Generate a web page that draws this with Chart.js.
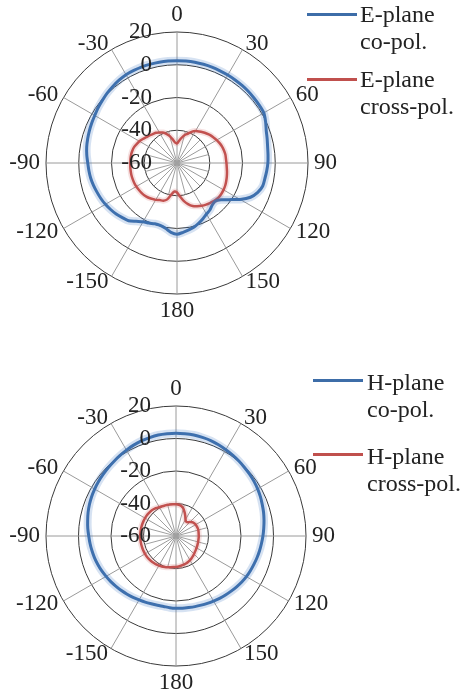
<!DOCTYPE html>
<html>
<head>
<meta charset="utf-8">
<script src="https://cdn.jsdelivr.net/npm/chart.js@4.4.1/dist/chart.umd.min.js"></script>
<style>
    body {
        margin: 0;
        width: 461px;
        height: 700px;
        background: #fff;
        position: relative;
        overflow: hidden;
        font-family: 'Liberation Serif', 'DejaVu Serif', serif;
    }
    canvas { position: absolute; left: 0; }
    #eChart { top: 0; }
    #hChart { top: 340px; }
    .legend-text {
        position: absolute;
        font-size: 24px;
        line-height: 27px;
        color: #222;
        white-space: nowrap;
    }
    .legend-line {
        position: absolute;
        width: 50px;
        height: 3px;
    }
</style>
</head>
<body>
<canvas id="eChart" width="461" height="340"></canvas>
<canvas id="hChart" width="461" height="360"></canvas>

<div class="legend-line" style="left:307px; top:13px; background:#3d6da8;"></div>
<div class="legend-text" style="left:360px; top:1px;">E-plane<br>co-pol.</div>
<div class="legend-line" style="left:307px; top:78px; background:#c0504d;"></div>
<div class="legend-text" style="left:360px; top:66px;">E-plane<br>cross-pol.</div>

<div class="legend-line" style="left:313px; top:379px; background:#3d6da8;"></div>
<div class="legend-text" style="left:367px; top:369px;">H-plane<br>co-pol.</div>
<div class="legend-line" style="left:313px; top:453px; background:#c0504d;"></div>
<div class="legend-text" style="left:367px; top:443px;">H-plane<br>cross-pol.</div>

<script>
// Angles (degrees, clockwise from top) and radial ticks (dB)
const angles = [0, 5, 10, 15, 20, 25, 30, 35, 40, 45, 50, 55, 60, 65, 70, 75, 80, 85,
    90, 95, 100, 105, 110, 115, 120, 125, 130, 135, 140, 145, 150, 155, 160, 165, 170, 175,
    180, 185, 190, 195, 200, 205, 210, 215, 220, 225, 230, 235, 240, 245, 250, 255, 260, 265,
    270, 275, 280, 285, 290, 295, 300, 305, 310, 315, 320, 325, 330, 335, 340, 345, 350, 355];
const radialTicks = [-60, -40, -20, 0, 20];

// E-plane patterns (dB)
const eCoPol = [2.5, 2.5, 2.5, 2.4, 2.3, 2.1, 2.0, 1.9, 1.8, 1.7, 1.5, 1.4, 1.2, -0.3, -2.0, -3.0, -3.8, -4.2,
    -4.5, -5.0, -5.5, -5.8, -7.5, -10.5, -15.5, -21, -25, -27, -26.5, -25, -24, -22.5, -21, -19.5, -18.5, -17.5,
    -16.5, -17.5, -19.5, -20.5, -20.5, -19.5, -18.5, -16.5, -14, -12.8, -11.5, -10.5, -9.5, -8.7, -8, -7.2, -6.5, -6,
    -5.5, -4.7, -4, -3.5, -3, -2.5, -2, -1.2, -0.5, 0.3, 1.0, 1.7, 2.3, 2.4, 2.5, 2.5, 2.5, 2.5];
const eCrossPol = [-48, -46.5, -44.5, -42.5, -41, -39, -37.5, -36.5, -35.5, -34.5, -33.5, -32.8, -32, -31.3, -30.7, -30.3, -30, -30,
    -29.8, -29.5, -29, -28.5, -28, -27.5, -27.2, -27, -27, -27.5, -28.3, -29, -29.8, -30.8, -32, -34, -36.5, -39.5,
    -42, -42.5, -40.5, -37, -35.5, -35, -34, -33.3, -32.5, -32, -31.7, -31.5, -31.3, -31.2, -31.2, -31.2, -31.3, -31.4,
    -31.5, -31.5, -31.5, -31.7, -32, -32.8, -33.5, -34.5, -35.5, -36.2, -37, -37.5, -38.5, -39.5, -41, -43, -45.5, -47.5];

// H-plane patterns (dB)
const hCoPol = [3.3, 3.2, 3.1, 2.8, 2.5, 1.9, 1.3, 0.8, 0.2, -0.4, -0.9, -1.4, -2.0, -2.7, -3.5, -4.2, -5.0, -5.8,
    -6.5, -7.2, -7.8, -8.4, -9.0, -9.5, -10.0, -10.6, -11.3, -12.0, -12.6, -13.2, -13.8, -14.3, -14.7, -15.0, -15.3, -15.4,
    -15.5, -15.7, -16.0, -15.9, -15.6, -15.1, -14.6, -13.9, -13.2, -12.5, -11.8, -11.0, -10.3, -9.5, -8.8, -8.1, -7.5, -6.9,
    -6.3, -5.5, -4.8, -4.0, -3.3, -2.7, -2.2, -1.7, -1.3, -0.8, -0.3, 0.3, 1.0, 1.7, 2.3, 2.7, 3.1, 3.2];
const hCrossPol = [-40.5, -40.7, -41.2, -42.5, -44.5, -46.5, -48.3, -49.2, -49, -47.8, -46.8, -46.3, -46, -45.9, -45.8, -45.8, -45.9, -46,
    -46, -46, -46, -45.9, -45.8, -45.6, -45.4, -45.1, -44.8, -44.3, -43.8, -43.3, -42.8, -42.4, -42, -41.7, -41.5, -41.2,
    -41, -40.8, -40.5, -40.1, -39.7, -39.3, -39, -38.7, -38.5, -38.3, -38.1, -38, -38, -38, -38, -38, -38, -38,
    -38, -38, -38, -38, -38, -38, -38, -38, -38.1, -38.2, -38.5, -39, -39.5, -39.8, -40, -40.1, -40.3, -40.4];

const BLUE = '#3d6da8';
const RED = '#c0504d';
const FONT = "23px 'Liberation Serif', serif";

// Label shown for an angle: 0..180, then -175..-5
function angleText(a) {
    return a > 180 ? String(a - 360) : String(a);
}

// Draws short inner spokes, tick labels and angle labels using the radial scale
const polarLabels = {
    id: 'polarLabels',
    beforeDatasetsDraw(chart) {
        const s = chart.scales.r;
        const ctx = chart.ctx;
        const inner = s.getDistanceFromCenterForValue(radialTicks[1]);
        ctx.save();
        ctx.strokeStyle = '#a0a0a0';
        ctx.lineWidth = 1;
        angles.forEach((a, i) => {
            if (a % 30 !== 15) return;
            const p = s.getPointPosition(i, inner);
            ctx.beginPath();
            ctx.moveTo(s.xCenter, s.yCenter);
            ctx.lineTo(p.x, p.y);
            ctx.stroke();
        });
        ctx.restore();
    },
    afterDatasetsDraw(chart) {
        const s = chart.scales.r;
        const ctx = chart.ctx;
        ctx.save();
        ctx.font = FONT;
        ctx.fillStyle = '#222';

        // radial tick labels, right-aligned a little left of the vertical axis
        ctx.textAlign = 'right';
        ctx.textBaseline = 'middle';
        radialTicks.forEach(v => {
            const d = s.getDistanceFromCenterForValue(v);
            ctx.fillText(String(v), s.xCenter - 25, s.yCenter - d);
        });

        // angle labels every 30 degrees
        angles.forEach((a, i) => {
            if (a % 30 !== 0) return;
            let p;
            if (a === 0 || a === 180) {
                p = s.getPointPosition(i, s.drawingArea + 17);
                ctx.textAlign = 'center';
            } else {
                p = s.getPointPosition(i, s.drawingArea + 6);
                ctx.textAlign = a < 180 ? 'left' : 'right';
            }
            ctx.textBaseline = 'middle';
            ctx.fillText(angleText(a), p.x, p.y);
        });
        ctx.restore();
    }
};

function createPolarChart(id, coData, crossData, padding) {
    const ctx = document.getElementById(id).getContext('2d');
    return new Chart(ctx, {
        type: 'radar',
        data: {
            labels: angles.map(angleText),
            datasets: [
                { data: coData, borderColor: 'rgba(70, 125, 195, 0.22)', borderWidth: 8 },
                { data: crossData, borderColor: 'rgba(205, 90, 90, 0.18)', borderWidth: 6 },
                { data: coData, borderColor: BLUE, borderWidth: 3 },
                { data: crossData, borderColor: RED, borderWidth: 2.5 }
            ]
        },
        options: {
            responsive: false,
            animation: false,
            layout: { padding: padding },
            elements: {
                point: { radius: 0, hoverRadius: 0 },
                line: { tension: 0.25, fill: false }
            },
            plugins: {
                legend: { display: false },
                tooltip: { enabled: false }
            },
            scales: {
                r: {
                    min: -60,
                    max: 20,
                    ticks: { stepSize: 20, display: false },
                    grid: { circular: true, color: '#3a3a3a', lineWidth: 1 },
                    angleLines: {
                        color: '#9a9a9a',
                        lineWidth: c => (angles[c.index] % 30 === 0 ? 1 : 0)
                    },
                    pointLabels: { display: false }
                }
            }
        },
        plugins: [polarLabels]
    });
}

createPolarChart('eChart', eCoPol, eCrossPol, { left: 46, right: 152, top: 32, bottom: 45 });
createPolarChart('hChart', hCoPol, hCrossPol, { left: 46, right: 154, top: 66, bottom: 33 });
</script>
</body>
</html>
